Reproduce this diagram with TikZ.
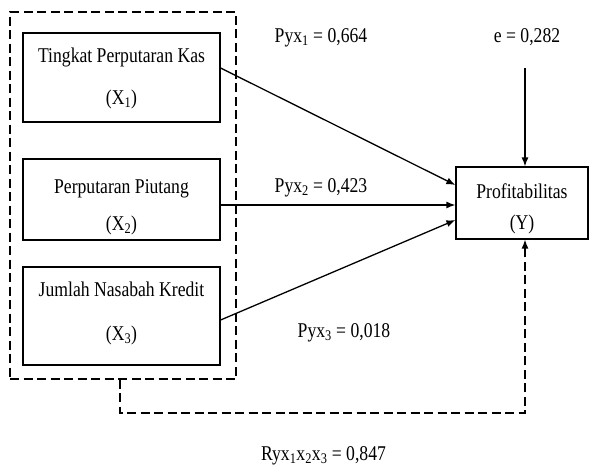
\documentclass[tikz,border=0pt]{standalone}
\usepackage{fontspec}
\setmainfont[FakeStretch=0.84]{Liberation Serif}
\usetikzlibrary{arrows.meta,shadows}
\begin{document}
\begin{tikzpicture}[x=1pt,y=-1pt,
  txt/.style={font=\fontsize{21}{25}\selectfont,inner sep=0pt,anchor=base},
  varbox/.style={draw,line width=1.2pt,fill=white,inner sep=0pt,
    drop shadow={shadow xshift=1pt,shadow yshift=-1.2pt,opacity=0.35}},
  arr/.style={line width=1.3pt,-{Latex[length=9pt,width=7pt]}},
  dsh/.style={line width=1.2pt,dash pattern=on 9pt off 4.5pt}]
\useasboundingbox (0,0) rectangle (589,466);
% outer dashed group
\node[draw,dsh,minimum width=226pt,minimum height=367pt,inner sep=0pt] (outer) at (123,195.5) {};
% variable boxes
\node[varbox,minimum width=197pt,minimum height=89pt] (x1) at (121.5,77.5) {};
\node[varbox,minimum width=197pt,minimum height=81pt] (x2) at (121.5,199.5) {};
\node[varbox,minimum width=197pt,minimum height=98pt] (x3) at (121.5,316) {};
\node[varbox,minimum width=132pt,minimum height=72pt] (yb) at (522,203) {};
% box texts
\node[txt] (t1a) at (121.5,62) {Tingkat Perputaran Kas};
\node[txt] (t1b) at (121.5,104) {(X\textsubscript{1})};
\node[txt] (t2a) at (121.5,193) {Perputaran Piutang};
\node[txt] (t2b) at (121.5,230) {(X\textsubscript{2})};
\node[txt] (t3a) at (121.5,296) {Jumlah Nasabah Kredit};
\node[txt] (t3b) at (121.5,340) {(X\textsubscript{3})};
\node[txt] (tya) at (522,198) {Profitabilitas};
\node[txt] (tyb) at (522,229) {(Y)};
% coefficient labels
\node[txt] (l1) at (321,42) {Pyx\textsubscript{1} = 0,664};
\node[txt] (le) at (527,42) {e = 0,282};
\node[txt] (l2) at (321,192) {Pyx\textsubscript{2} = 0,423};
\node[txt] (l3) at (344,337) {Pyx\textsubscript{3} = 0,018};
\node[txt] (lr) at (323.5,460) {Ryx\textsubscript{1}x\textsubscript{2}x\textsubscript{3} = 0,847};
% arrows
\draw[arr] ([yshift=9.5pt]x1.east) -- ([yshift=18pt]yb.west);
\draw[arr] ([yshift=-5.5pt]x2.east) -- ([yshift=-2pt]yb.west);
\draw[arr] ([yshift=-4pt]x3.east) -- ([yshift=-17pt]yb.west);
\coordinate (etop) at (525,68);
\draw[arr] (etop) -- (etop |- yb.north);
\coordinate (rc) at (525,413);
\draw[dsh,arr] ([xshift=-3pt]outer.south) |- (rc) -- (rc |- yb.south);
\end{tikzpicture}
\end{document}
